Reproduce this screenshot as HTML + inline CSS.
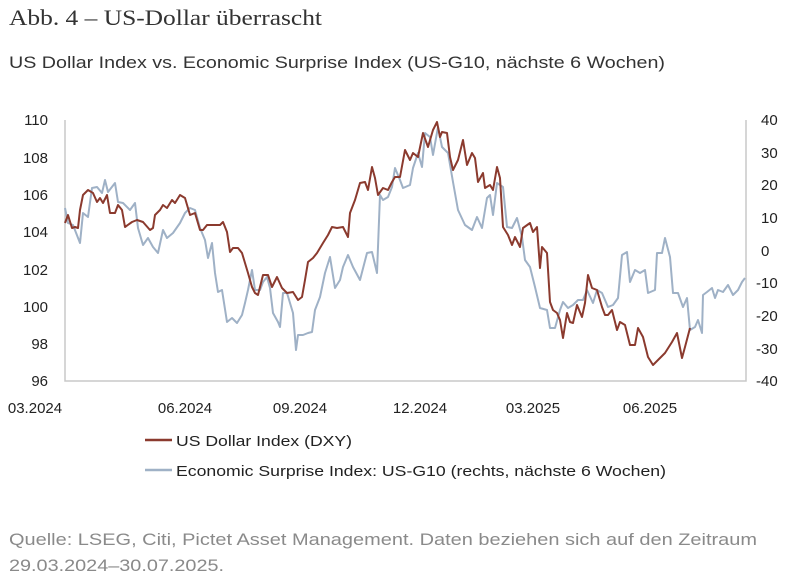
<!DOCTYPE html>
<html><head><meta charset="utf-8"><style>
body{margin:0;background:#fff;width:803px;height:581px;overflow:hidden;font-family:"Liberation Sans",sans-serif;}
svg{position:absolute;left:0;top:0}
text{font-family:"Liberation Sans",sans-serif}
</style></head><body>
<svg width="803" height="581" viewBox="0 0 803 581">
<text x="9" y="25" style="font-family:'Liberation Serif',serif;font-size:22px;fill:#333" textLength="313" lengthAdjust="spacingAndGlyphs">Abb. 4 – US-Dollar überrascht</text>
<text x="9" y="68" style="font-size:17px;fill:#333" textLength="656" lengthAdjust="spacingAndGlyphs">US Dollar Index vs. Economic Surprise Index (US-G10, nächste 6 Wochen)</text>
<g style="font-size:15px;fill:#222" text-anchor="end">
<text x="48" y="125">110</text><text x="48" y="163">108</text><text x="48" y="200">106</text><text x="48" y="237">104</text><text x="48" y="275">102</text><text x="48" y="312">100</text><text x="48" y="349">98</text><text x="48" y="386">96</text>
</g>
<g style="font-size:15px;fill:#222">
<text x="761" y="125">40</text><text x="761" y="158">30</text><text x="761" y="190">20</text><text x="761" y="223">10</text><text x="761" y="256">0</text><text x="756" y="288">-10</text><text x="756" y="321">-20</text><text x="756" y="354">-30</text><text x="756" y="386">-40</text>
</g>
<g style="font-size:15px;fill:#222" text-anchor="middle">
<text x="35" y="413">03.2024</text><text x="185" y="413">06.2024</text><text x="300" y="413">09.2024</text><text x="420" y="413">12.2024</text><text x="533" y="413">03.2025</text><text x="650" y="413">06.2025</text>
</g>
<polyline fill="none" stroke="#c8c8c8" stroke-width="1.5" points="65,120 65,381 746,381 746,120"/>
<polyline fill="none" stroke="#9fb1c6" stroke-width="2" stroke-linejoin="round" points="65,208 68,223 73,225 80,243 83,213 88,217 92,188 97,187 102,193 105,180 108,192 115,183 118,202 123,203 130,210 135,203 138,228 143,245 148,238 153,247 158,253 163,230 167,238 173,233 180,223 185,213 190,208 195,210 200,228 205,240 208,258 212,243 215,273 218,292 222,290 227,322 232,318 237,323 242,315 245,303 248,290 252,270 255,290 260,290 263,282 267,277 270,288 273,313 278,322 280,327 283,293 287,293 293,313 296,350 298,335 303,335 308,333 312,332 315,310 320,297 325,273 330,257 335,288 340,280 343,267 348,255 353,267 360,280 367,253 372,252 377,273 380,195 383,200 388,197 392,187 395,168 400,180 403,188 410,185 413,168 418,153 422,167 425,133 430,137 433,155 438,127 442,147 448,153 453,182 458,210 465,225 472,230 477,217 482,228 487,198 490,195 493,215 497,183 503,187 507,227 512,228 517,218 522,237 525,260 530,267 535,287 540,308 547,310 550,328 555,328 560,310 563,302 568,308 573,305 578,300 583,300 587,290 593,303 597,290 602,293 605,300 608,307 613,305 618,298 622,255 627,252 630,282 635,270 640,273 645,270 648,293 655,290 657,253 662,253 665,238 670,257 673,293 678,293 683,307 687,298 690,330 695,327 698,320 702,333 703,295 707,292 712,288 715,298 718,290 723,292 728,285 733,295 738,290 742,282 745,278"/>
<polyline fill="none" stroke="#8b3a2e" stroke-width="2" stroke-linejoin="round" points="65,223 68,215 72,228 75,227 78,228 80,210 83,195 88,190 93,193 97,202 100,198 103,203 107,195 110,213 115,213 118,205 122,210 125,227 132,222 137,220 143,222 150,230 153,228 155,215 160,210 163,205 167,208 172,200 175,203 180,195 185,198 190,215 195,213 200,230 203,230 207,225 213,225 220,225 223,222 227,232 230,252 233,248 238,248 242,253 245,263 248,273 252,287 255,293 258,295 263,275 268,275 272,287 277,277 282,288 287,293 293,292 298,300 302,297 305,280 308,262 313,258 317,253 323,243 328,235 332,227 337,228 343,227 348,237 350,213 355,200 360,183 365,182 368,190 372,167 375,178 378,195 383,188 388,190 392,182 395,177 400,177 405,150 410,160 413,153 418,157 423,133 428,147 433,130 437,122 440,137 442,132 447,133 450,157 453,170 458,160 463,140 467,165 472,153 475,158 478,182 483,173 485,188 490,185 493,190 497,167 500,178 503,227 508,235 512,245 515,237 520,247 523,228 530,223 533,232 537,227 540,268 542,247 547,253 550,302 553,310 557,313 560,320 563,338 567,313 570,322 573,323 577,305 582,317 585,303 588,275 592,288 597,290 602,307 605,315 608,315 612,310 617,330 620,322 625,325 630,345 635,345 638,328 643,337 648,357 653,365 658,360 665,353 672,342 677,333 682,358 685,347 690,328"/>
<line x1="145" y1="440" x2="172" y2="440" stroke="#8b3a2e" stroke-width="2.5"/>
<text x="176" y="446" style="font-size:15px;fill:#222" textLength="176" lengthAdjust="spacingAndGlyphs">US Dollar Index (DXY)</text>
<line x1="145" y1="470" x2="172" y2="470" stroke="#9fb1c6" stroke-width="2.5"/>
<text x="176" y="476" style="font-size:15px;fill:#222" textLength="490" lengthAdjust="spacingAndGlyphs">Economic Surprise Index: US-G10 (rechts, nächste 6 Wochen)</text>
<text x="9" y="545" style="font-size:17px;fill:#8a8a8a" textLength="748" lengthAdjust="spacingAndGlyphs">Quelle: LSEG, Citi, Pictet Asset Management. Daten beziehen sich auf den Zeitraum</text>
<text x="9" y="571" style="font-size:17px;fill:#8a8a8a" textLength="215" lengthAdjust="spacingAndGlyphs">29.03.2024–30.07.2025.</text>
</svg>
</body></html>
